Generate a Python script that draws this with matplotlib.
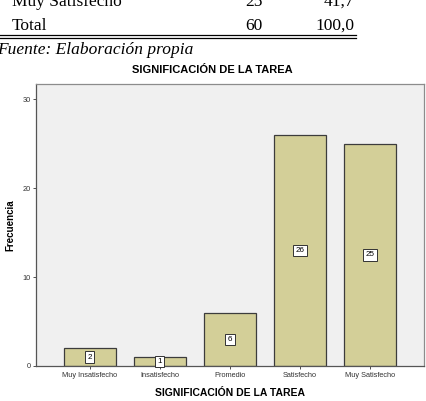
import matplotlib.pyplot as plt
from matplotlib.lines import Line2D

# data
categories = ["Muy Insatisfecho", "Insatisfecho", "Promedio", "Satisfecho", "Muy Satisfecho"]
freq = [2, 1, 6, 26, 25]
y_ticks = [0, 10, 20, 30]

W, H = 427, 401
fig = plt.figure(figsize=(W / 100, H / 100), dpi=100)


def fx(px):
    return px / W


def fy(py):
    return 1 - py / H


# document text above the chart (table tail + source), cut at the top like the scan
serif = "Liberation Serif"
fig.text(fx(12), fy(6), "Muy Satisfecho", family=serif, fontsize=12.5, va="baseline")
fig.text(fx(263), fy(6), "25", family=serif, fontsize=12.5, va="baseline", ha="right")
fig.text(fx(354), fy(6), "41,7", family=serif, fontsize=12.5, va="baseline", ha="right")
fig.text(fx(12), fy(30), "Total", family=serif, fontsize=12.5, va="baseline")
fig.text(fx(263), fy(30), "60", family=serif, fontsize=12.5, va="baseline", ha="right")
fig.text(fx(354), fy(30), "100,0", family=serif, fontsize=12.5, va="baseline", ha="right")
for yy in (34.5, 37.5):
    fig.add_artist(Line2D([0, fx(356)], [fy(yy), fy(yy)], color="black", lw=0.9))
fig.text(fx(-3), fy(54), "Fuente: Elaboración propia", family=serif, style="italic",
         fontsize=12.5, va="baseline")

# chart
ax = fig.add_axes([fx(36), fy(366), fx(424) - fx(36), fy(84) - fy(366)])
ax.set_facecolor("#f0f0f0")
x = range(len(categories))
ax.bar(x, freq, width=0.75, color="#d3cf98", edgecolor="#3c3c3c", linewidth=0.9)

for i, v in enumerate(freq):
    ax.text(i, v / 2, str(v), ha="center", va="center", fontsize=5.8,
            family="Liberation Sans",
            bbox=dict(boxstyle="square,pad=0.28", fc="white", ec="#333333", lw=0.7))

ax.set_xlim(-0.77, 4.77)
ax.set_ylim(0, 31.7)
ax.set_xticks(list(x))
ax.set_xticklabels(categories, fontsize=5.3, family="Liberation Sans")
ax.set_yticks(y_ticks)
ax.set_yticklabels([str(t) for t in y_ticks], fontsize=5.3, family="Liberation Sans")
ax.tick_params(axis="both", length=2.5, width=0.6, pad=1.5, colors="#333333")
for s in ("top", "right"):
    ax.spines[s].set_color("#8c8c8c")
for s in ("left", "bottom"):
    ax.spines[s].set_color("#555555")
for s in ax.spines.values():
    s.set_linewidth(0.9)

ax.set_xlabel("SIGNIFICACIÓN DE LA TAREA", fontsize=7.5, fontweight="bold",
              family="Liberation Sans", labelpad=7)
ax.set_ylabel("Frecuencia", fontsize=7, fontweight="bold", family="Liberation Sans",
              labelpad=5)
fig.text(fx(212), fy(73), "SIGNIFICACIÓN DE LA TAREA", ha="center", va="baseline",
         fontsize=8, fontweight="bold", family="Liberation Sans")

fig.savefig("out.png", dpi=100)
